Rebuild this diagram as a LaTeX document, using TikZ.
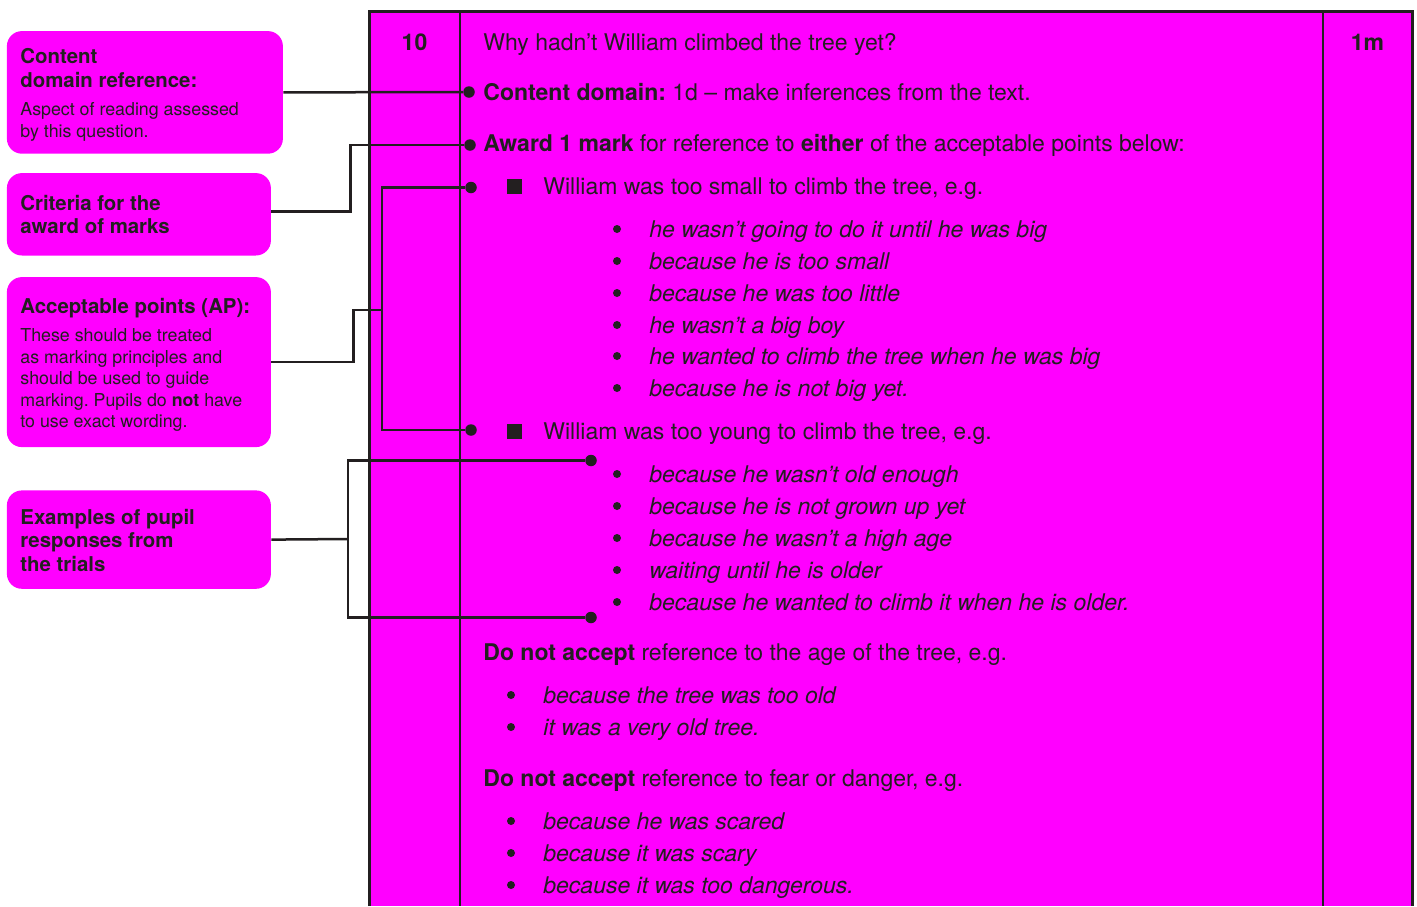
\documentclass[tikz,border=0pt]{standalone}
\usepackage{fontspec}
\setmainfont{TeX Gyre Heros}
\frenchspacing
\definecolor{mag}{HTML}{FF00FF}
\definecolor{ink}{HTML}{231F20}

\begin{document}
\begin{tikzpicture}[x=0.5pt, y=-0.5pt,
    box/.style = {fill=mag, rounded corners=7.5pt, anchor=north west, inner sep=0pt},
    hd/.style = {anchor=base west, align=left, text=ink, inner sep=0pt, font=\fontsize{10.2}{11.75}\selectfont\bfseries},
    sm/.style = {anchor=base west, align=left, text=ink, inner sep=0pt, font=\fontsize{8.9}{10.7}\selectfont},
    txt/.style = {anchor=base west, text=ink, inner sep=0pt, font=\fontsize{11.5}{13.5}\selectfont},
    itx/.style = {txt, font=\fontsize{11.5}{13.5}\selectfont\itshape},
    num/.style = {anchor=base, text=ink, inner sep=0pt, font=\fontsize{11.5}{13.5}\selectfont\bfseries},
    conn/.style = {draw=ink, line width=1.25pt},
    dot/.style = {circle, fill=ink, inner sep=0pt, minimum size=5.75pt}]
    \useasboundingbox (0,0) rectangle (1417,906);

    % the mark scheme table
    \fill[mag] (369,11) rectangle (1412,906);
    \draw[ink, line width=1pt] (460,11) -- (460,906);
    \draw[ink, line width=1pt] (1323,11) -- (1323,906);
    \draw[ink, line width=1.5pt] (369,906) -- (369,11) -- (1412,11) -- (1412,906);

    % boxes on the left
    \node[box, minimum width=138pt, minimum height=61.3pt] (cdr) at (6.5,30.7) {};
    \node[box, minimum width=132pt, minimum height=41.2pt] (crit) at (6.5,172.7) {};
    \node[box, minimum width=132pt, minimum height=85pt] (ap) at (6.5,276.7) {};
    \node[box, minimum width=132pt, minimum height=49.2pt] (ex) at (6.5,490) {};

    % (base of a two-line node = its last line)
    \node[hd] (cdrhd) at (20,87) {Content\\domain reference:};
    \node[sm] (cdrsm) at (20,137) {Aspect of reading assessed\\by this question.};
    \node[hd] (crithd) at (20,233.5) {Criteria for the\\award of marks};
    \node[hd] (aphd) at (20,313) {Acceptable points (AP):};
    \node[sm] (apsm) at (20,427.5) {These should be treated\\as marking principles and\\should be used to guide\\marking. Pupils do \textbf{not} have\\to use exact wording.};
    \node[hd] (exhd) at (20,571) {Examples of pupil\\responses from\\the trials};

    % end points of the connectors
    \node[dot] (cddot) at (469,92) {};
    \node[dot] (awdot) at (470,145) {};
    \node[dot] (apdot1) at (471,187.5) {};
    \node[dot] (apdot2) at (471,430) {};
    \node[dot] (exdot1) at (591,460.5) {};
    \node[dot] (exdot2) at (591,617.5) {};
    \coordinate (apjoin) at (382,310);
    \coordinate (exjoin) at (348,539);

    \draw[conn] (cdr.east) -- (cddot);
    \draw[conn] ([yshift=1.5pt]crit.east) -- ++(79,0) |- (awdot);
    \draw[conn] (ap.east) -- ++(82,0) |- (apjoin);
    \draw[conn] (apdot1) -| (apjoin) |- (apdot2);
    \draw[conn] (ex.east) -- (exjoin);
    \draw[conn] (exdot1) -| (exjoin) |- (exdot2);

    % table text
    \node[num] (qno) at (414.5,50) {10};
    \node[num] (mark) at (1367.5,50) {1m};
    \node[txt] (q) at (483,50) {Why hadn’t William climbed the tree yet?};
    \node[txt] (dom) at (483,100) {\textbf{Content domain:} 1d – make inferences from the text.};
    \node[txt] (award) at (483,151) {\textbf{Award 1 mark} for reference to \textbf{either} of the acceptable points below:};

    \fill[ink] (507,179) rectangle (522,194);
    \node[txt] (small) at (543,194) {William was too small to climb the tree, e.g.};
    \fill[ink] (617,229) circle (2pt);
    \node[itx] (s1) at (649,237) {he wasn’t going to do it until he was big};
    \fill[ink] (617,261) circle (2pt);
    \node[itx] (s2) at (649,269) {because he is too small};
    \fill[ink] (617,293) circle (2pt);
    \node[itx] (s3) at (649,301) {because he was too little};
    \fill[ink] (617,325) circle (2pt);
    \node[itx] (s4) at (649,333) {he wasn’t a big boy};
    \fill[ink] (617,356) circle (2pt);
    \node[itx] (s5) at (649,364) {he wanted to climb the tree when he was big};
    \fill[ink] (617,388) circle (2pt);
    \node[itx] (s6) at (649,396) {because he is not big yet.};

    \fill[ink] (507,424) rectangle (522,439);
    \node[txt] (young) at (543,439) {William was too young to climb the tree, e.g.};
    \fill[ink] (617,474) circle (2pt);
    \node[itx] (y1) at (649,482) {because he wasn’t old enough};
    \fill[ink] (617,506) circle (2pt);
    \node[itx] (y2) at (649,514) {because he is not grown up yet};
    \fill[ink] (617,538) circle (2pt);
    \node[itx] (y3) at (649,546) {because he wasn’t a high age};
    \fill[ink] (617,570) circle (2pt);
    \node[itx] (y4) at (649,578) {waiting until he is older};
    \fill[ink] (617,602) circle (2pt);
    \node[itx] (y5) at (649,610) {because he wanted to climb it when he is older.};

    \node[txt] (notage) at (483,660) {\textbf{Do not accept} reference to the age of the tree, e.g.};
    \fill[ink] (511,695) circle (2pt);
    \node[itx] (a1) at (543,703) {because the tree was too old};
    \fill[ink] (511,727) circle (2pt);
    \node[itx] (a2) at (543,735) {it was a very old tree.};

    \node[txt] (notfear) at (483,786) {\textbf{Do not accept} reference to fear or danger, e.g.};
    \fill[ink] (511,821) circle (2pt);
    \node[itx] (f1) at (543,829) {because he was scared};
    \fill[ink] (511,853) circle (2pt);
    \node[itx] (f2) at (543,861) {because it was scary};
    \fill[ink] (511,885) circle (2pt);
    \node[itx] (f3) at (543,893) {because it was too dangerous.};
\end{tikzpicture}
\end{document}
